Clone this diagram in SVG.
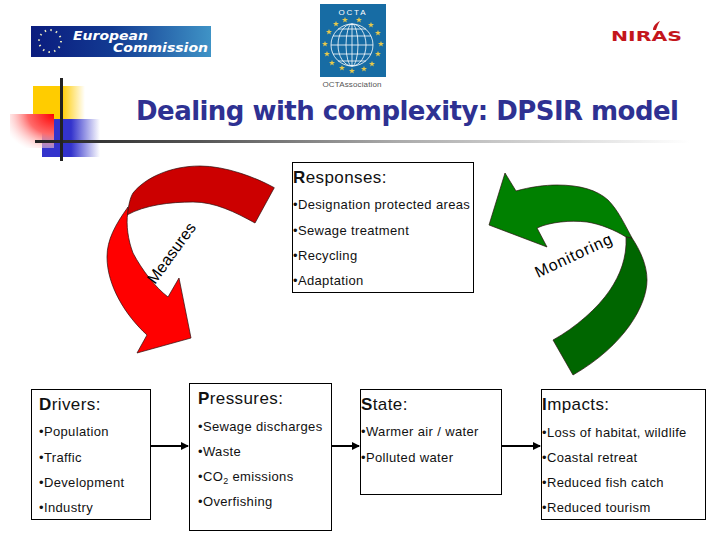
<svg xmlns="http://www.w3.org/2000/svg" width="720" height="540" viewBox="0 0 720 540">
<style>
text{font-family:"Liberation Sans",Arial,sans-serif;fill:#000}
.b{font-size:13px;letter-spacing:.36px;fill:#111}
.h{font-size:17px;letter-spacing:.4px;fill:#111}
.h tspan{font-weight:bold}
.box{fill:#fff;stroke:#000;stroke-width:1}
.arr{stroke:#2a1010;stroke-width:.7}
.con{stroke:#000;stroke-width:2;fill:none;marker-end:url(#ah)}
.star{fill:#e6c84c}
.ln{stroke:#fff;fill:none;stroke-width:.8}
</style>
<defs>
<marker id="ah" markerWidth="4" markerHeight="4" refX="3.500" refY="2" orient="auto"><path d="M0 0L4 2L0 4Z" fill="#000"/></marker>
<path id="s" d="M0-3L.8-1H3L1.200.4L1.900 2.600L0 1.300L-1.900 2.600L-1.200.4L-3-1H-.8Z"/>
<linearGradient id="ec" x1="0" x2="1" y1="0" y2="0"><stop offset="0" stop-color="#0b1c7e"/><stop offset=".45" stop-color="#123a92"/><stop offset="1" stop-color="#3f93c6"/></linearGradient>
<linearGradient id="y" x1="0" x2="1" y1="0" y2="0"><stop offset="0" stop-color="#ffcc00"/><stop offset=".55" stop-color="#ffcc00"/><stop offset="1" stop-color="#ffcc00" stop-opacity="0"/></linearGradient>
<linearGradient id="bl" x1="0" x2="1" y1="0" y2="0"><stop offset="0" stop-color="#3333cc"/><stop offset=".5" stop-color="#3333cc"/><stop offset="1" stop-color="#3333cc" stop-opacity="0"/></linearGradient>
<radialGradient id="rd" cx="1" cy="0" r="1.2"><stop offset="0" stop-color="#ff0000"/><stop offset=".5" stop-color="#ff6a6a"/><stop offset="1" stop-color="#ffffff" stop-opacity=".3"/></radialGradient>
<linearGradient id="ln" gradientUnits="userSpaceOnUse" x1="35" x2="690" y1="0" y2="0"><stop offset="0" stop-color="#222"/><stop offset=".25" stop-color="#555"/><stop offset=".55" stop-color="#aaa"/><stop offset="1" stop-color="#fff"/></linearGradient>
</defs>
<g id="ec-logo">
<rect x="31" y="26" width="180" height="31" fill="url(#ec)"/>
<circle cx="50" cy="41" r="11" fill="none" stroke="#e8e8c0" stroke-width="2" stroke-dasharray="1.500 4.260"/>
<text x="73" y="40" font-size="13" font-weight="bold" font-style="italic" textLength="75" lengthAdjust="spacingAndGlyphs" style="font-family:'DejaVu Sans',sans-serif;fill:#fff">European</text>
<text x="113" y="52" font-size="13" font-weight="bold" font-style="italic" textLength="95" lengthAdjust="spacingAndGlyphs" style="font-family:'DejaVu Sans',sans-serif;fill:#fff">Commission</text>
</g>
<g id="octa-logo">
<rect x="320" y="4" width="66" height="73" fill="#176ca4"/>
<text x="352" y="15" font-size="8" text-anchor="middle" textLength="27" style="fill:#fff">OCTA</text>
<circle class="ln" cx="352" cy="45" r="21" stroke-width="1.400"/>
<ellipse class="ln" cx="352" cy="45" rx="14" ry="21"/>
<ellipse class="ln" cx="352" cy="45" rx="6" ry="21"/>
<path class="ln" d="M331 45H373M333 36H371M333 54H371M338 29H366M338 61H366M352 24V66"/>
<g class="star">
<use href="#s" x="345" y="20"/><use href="#s" x="359" y="20"/><use href="#s" x="371" y="25"/><use href="#s" x="378" y="33"/><use href="#s" x="381" y="44"/><use href="#s" x="378" y="54"/><use href="#s" x="372" y="64"/><use href="#s" x="364" y="69"/><use href="#s" x="352" y="71"/><use href="#s" x="342" y="68"/><use href="#s" x="332" y="63"/><use href="#s" x="327" y="54"/><use href="#s" x="325" y="44"/><use href="#s" x="329" y="32"/><use href="#s" x="336" y="24"/>
</g>
<text x="352" y="87" font-size="8" text-anchor="middle" textLength="59" style="fill:#555">OCTAssociation</text>
</g>
<g id="niras-logo">
<text x="611" y="41" font-size="14" font-weight="bold" textLength="71" lengthAdjust="spacingAndGlyphs" style="font-family:'DejaVu Sans',sans-serif;fill:#c4161c">NIRAS</text>
<path d="M653 30C653 26 656 23 660 21C658 24 657 27 656 30Z" fill="#c4161c"/>
</g>
<g id="decor">
<rect x="33" y="86" width="52" height="33" fill="url(#y)"/>
<rect x="42" y="119" width="58" height="38" fill="url(#bl)"/>
<rect x="10" y="114" width="44" height="34" fill="url(#rd)"/>
<rect x="35" y="140" width="655" height="3" fill="url(#ln)"/>
<rect x="60" y="78" width="3" height="83" fill="#222"/>
</g>
<text id="title" x="136" y="120" font-size="26" font-weight="bold" textLength="543" style="font-family:'DejaVu Sans',Verdana,sans-serif;fill:#2e3192">Dealing with complexity: DPSIR model</text>
<g id="measures-arrow">
<path class="arr" fill="#cc0000" d="M274.300 187.700C255 177 225 166 200 166C170 166 145 178 133 193C130 198 129 204 127 215C145 205 170 202 193 202C215 202 235 212 255 223Z"/>
<path class="arr" fill="#ff0000" d="M128 207C115 225 107 240 107 257C107 285 125 315 147 335L137 353L191 338L179 278L168 297C155 287 142 270 133 253C128 240 126 225 127.700 213Z"/>
<text transform="translate(155 285) rotate(-54)" font-size="16" textLength="71">Measures</text>
</g>
<g id="monitoring-arrow">
<path class="arr" fill="#008000" d="M505 173L516 191C530 187 545 185 557 185C580 185 597 190 608 200C618 210 625 225 632 238L626 237C615 230 600 224 587 222C570 220 550 222 537 228L547 247L489 225Z"/>
<path class="arr" fill="#006600" d="M626 237L632 238C640 250 647 265 647 280C647 305 625 345 573 375L553 340C575 328 598 308 610 290C620 275 627 258 626 237Z"/>
<text transform="translate(538 278) rotate(-25)" font-size="16" textLength="83">Monitoring</text>
</g>
<g id="responses">
<rect class="box" x="292.500" y="162.500" width="181" height="130"/>
<text class="h" x="293" y="183"><tspan>R</tspan>esponses:</text>
<text class="b" x="293" y="209">•Designation protected areas</text>
<text class="b" x="293" y="235">•Sewage treatment</text>
<text class="b" x="293" y="260">•Recycling</text>
<text class="b" x="293" y="285">•Adaptation</text>
</g>
<g id="drivers">
<rect class="box" x="31.500" y="389.500" width="119" height="130"/>
<text class="h" x="39" y="410"><tspan>D</tspan>rivers:</text>
<text class="b" x="39" y="436">•Population</text>
<text class="b" x="39" y="462">•Traffic</text>
<text class="b" x="39" y="487">•Development</text>
<text class="b" x="39" y="512">•Industry</text>
</g>
<g id="pressures">
<rect class="box" x="189.500" y="383.500" width="142" height="147"/>
<text class="h" x="198" y="404"><tspan>P</tspan>ressures:</text>
<text class="b" x="198" y="431">•Sewage discharges</text>
<text class="b" x="198" y="456">•Waste</text>
<text class="b" x="198" y="481">•CO<tspan font-size="9" dy="3">2</tspan><tspan dy="-3"> emissions</tspan></text>
<text class="b" x="198" y="506">•Overfishing</text>
</g>
<g id="state">
<rect class="box" x="360.500" y="389.500" width="141" height="105"/>
<text class="h" x="361" y="410"><tspan>S</tspan>tate:</text>
<text class="b" x="361" y="436">•Warmer air / water</text>
<text class="b" x="361" y="462">•Polluted water</text>
</g>
<g id="impacts">
<rect class="box" x="541.500" y="389.500" width="164" height="130"/>
<text class="h" x="542" y="410"><tspan>I</tspan>mpacts:</text>
<text class="b" x="542" y="437">•Loss of habitat, wildlife</text>
<text class="b" x="542" y="462">•Coastal retreat</text>
<text class="b" x="542" y="487">•Reduced fish catch</text>
<text class="b" x="542" y="512">•Reduced tourism</text>
</g>
<g id="connectors">
<path class="con" d="M151 446H188"/>
<path class="con" d="M332 446H359"/>
<path class="con" d="M502 446H540"/>
</g>
</svg>
